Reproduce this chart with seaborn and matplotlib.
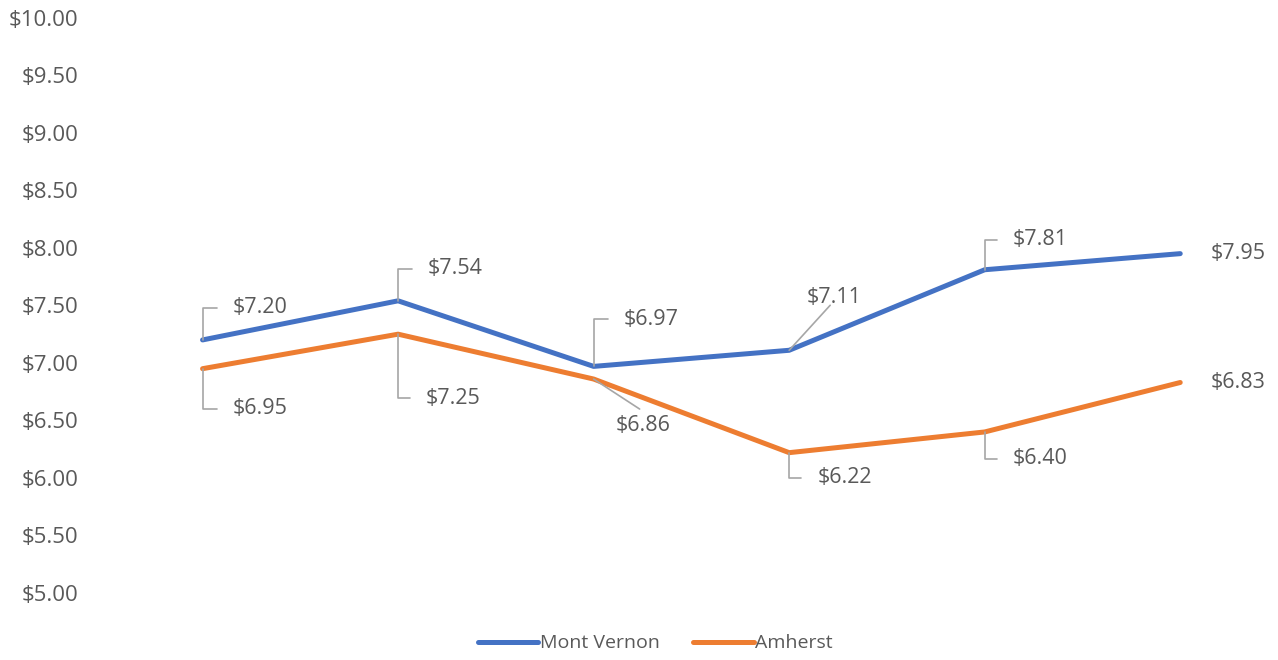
import pandas as pd
import seaborn as sns
import matplotlib.pyplot as plt

periods = [1, 2, 3, 4, 5, 6]
mont_vernon = [7.20, 7.54, 6.97, 7.11, 7.81, 7.95]
amherst = [6.95, 7.25, 6.86, 6.22, 6.40, 6.83]
series_names = ["Mont Vernon", "Amherst"]

# label offsets in pixels (dx, dy, leader style)
mv_offsets = [(30, 32, "elbow"), (30, 32, "elbow"), (30, 47, "elbow"),
              (17, 53, "diag"), (28, 30, "elbow"), (30, 0, "none")]
am_offsets = [(30, -40, "elbow"), (28, -64, "elbow"), (22, -46, "diag"),
              (28, -25, "elbow"), (28, -27, "elbow"), (30, 0, "none")]

df = pd.DataFrame({
    "period": periods * 2,
    "price": mont_vernon + amherst,
    "town": [series_names[0]] * 6 + [series_names[1]] * 6,
})

sns.set_style("white")
plt.rcParams["font.family"] = ["Open Sans", "DejaVu Sans"]

fig = plt.figure(figsize=(12.78, 6.6), dpi=100)
ax = fig.add_axes([0.082, 0.1015, 0.918, 0.8715])

colors = ["#4472C4", "#ED7D31"]
sns.lineplot(data=df, x="period", y="price", hue="town", palette=colors,
             linewidth=3.6, ax=ax, legend=False)

gray = "#595959"
lead = "#A6A6A6"


def label(xs, ys, offsets):
    for x, y, (dx, dy, kind) in zip(xs, ys, offsets):
        ax.annotate(f"${y:.2f}", xy=(x, y), xytext=(dx, dy),
                    textcoords="offset pixels", ha="left", va="center",
                    fontsize=15.5, color=gray)
        if kind == "elbow":
            ax.annotate("", xy=(x, y), xytext=(dx - 16, dy),
                        textcoords="offset pixels",
                        arrowprops=dict(arrowstyle="-", color=lead, lw=1.2,
                                        shrinkA=0, shrinkB=0,
                                        connectionstyle="angle,angleA=0,angleB=90,rad=0"))
        elif kind == "diag":
            ax.annotate("", xy=(x, y), xytext=(dx + 24, dy + (-8 if dy > 0 else 16)),
                        textcoords="offset pixels",
                        arrowprops=dict(arrowstyle="-", color=lead, lw=1.2,
                                        shrinkA=0, shrinkB=0))


label(periods, mont_vernon, mv_offsets)
label(periods, amherst, am_offsets)

ax.set_xlim(0.5, 6.5)
ax.set_ylim(5, 10)
ax.set_yticks([5 + 0.5 * i for i in range(11)])
ax.set_yticklabels([f"${5 + 0.5 * i:.2f}" for i in range(11)])
ax.set_xticks([])
ax.set_xlabel("")
ax.set_ylabel("")
ax.tick_params(axis="y", length=0, pad=19, labelsize=16, labelcolor=gray)
sns.despine(ax=ax, left=True, bottom=True)

handles = [plt.Line2D([], [], color=c, lw=3.6, solid_capstyle="round") for c in colors]
fig.legend(handles, series_names, loc="center", bbox_to_anchor=(0.513, 0.025),
           ncol=2, frameon=False, fontsize=14, labelcolor=gray,
           handlelength=3.1, handletextpad=0.1, columnspacing=1.7)

fig.savefig("out.png", dpi=100)
